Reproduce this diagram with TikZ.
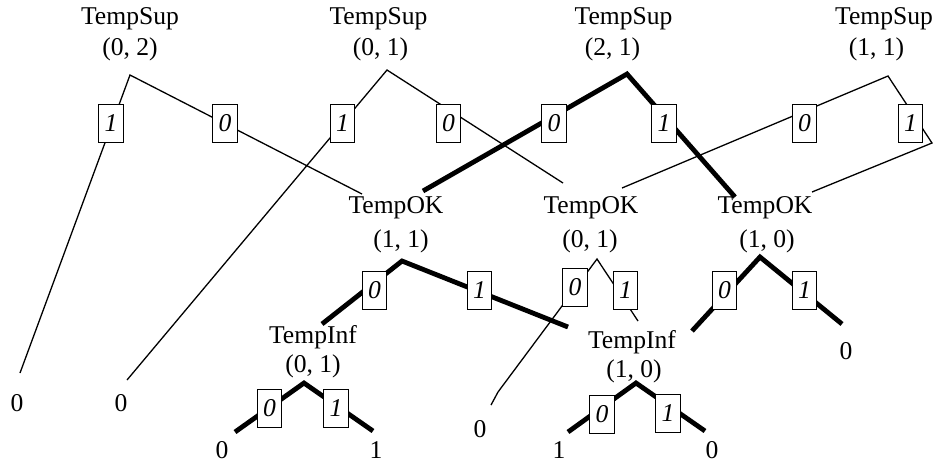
\documentclass[tikz,border=0pt]{standalone}
\usepackage{fontspec}
\setmainfont{Liberation Serif}
\begin{document}
\begin{tikzpicture}[x=0.5pt,y=-0.5pt,
  lbl/.style={anchor=base, inner sep=0pt, font=\fontsize{12.8}{15}\selectfont},
  bit/.style={draw, fill=white, line width=0.5pt, minimum width=12.3pt,
              minimum height=19pt, inner sep=0pt,
              font=\fontsize{12.8}{15}\selectfont\itshape},
  thinedge/.style={line width=0.65pt},
  thickedge/.style={line width=2.4pt},
]
\useasboundingbox (0,0) rectangle (937,463);

% ---- variable labels ----
\node[lbl] (s1)  at (130,24)   {TempSup};
\node[lbl] (s1v) at (130,55)   {(0, 2)};
\node[lbl] (s2)  at (378.5,24) {TempSup};
\node[lbl] (s2v) at (380.5,55) {(0, 1)};
\node[lbl] (s3)  at (623.5,24) {TempSup};
\node[lbl] (s3v) at (612.5,55) {(2, 1)};
\node[lbl] (s4)  at (884,24)   {TempSup};
\node[lbl] (s4v) at (876.5,55) {(1, 1)};

\node[lbl] (k1)  at (396,213)  {TempOK};
\node[lbl] (k1v) at (401,247)  {(1, 1)};
\node[lbl] (k2)  at (591,213)  {TempOK};
\node[lbl] (k2v) at (590,247)  {(0, 1)};
\node[lbl] (k3)  at (765,213)  {TempOK};
\node[lbl] (k3v) at (767,247)  {(1, 0)};

\node[lbl] (i1)  at (313,343)  {TempInf};
\node[lbl] (i1v) at (313,372)  {(0, 1)};
\node[lbl] (i2)  at (632,348)  {TempInf};
\node[lbl] (i2v) at (634,377)  {(1, 0)};

% ---- terminal values ----
\node[lbl] (t1) at (17,411)  {0};
\node[lbl] (t2) at (121,411) {0};
\node[lbl] (t3) at (222,458) {0};
\node[lbl] (t4) at (376,458) {1};
\node[lbl] (t5) at (480,437) {0};
\node[lbl] (t6) at (559,458) {1};
\node[lbl] (t7) at (712,458) {0};
\node[lbl] (t8) at (846,359) {0};

% ---- branching points and edge ends ----
\coordinate (v1) at (130,75);  \coordinate (e1a) at (20,373);  \coordinate (e1b) at (362,194);
\coordinate (v2) at (387,70);  \coordinate (e2a) at (127,380); \coordinate (e2b) at (563,183);
\coordinate (v3) at (627,74);  \coordinate (e3a) at (423,191); \coordinate (e3b) at (735,197);
\coordinate (v4) at (888,76);  \coordinate (e4a) at (622,188); \coordinate (c4) at (932,143);
\coordinate (e4b) at (812,192);
\coordinate (v5) at (402,261); \coordinate (e5a) at (322,324); \coordinate (e5b) at (568,327);
\coordinate (v6) at (597,259); \coordinate (c6) at (498,392);  \coordinate (e6a) at (491,405);
\coordinate (e6b) at (638,321);
\coordinate (v7) at (760,257); \coordinate (e7a) at (692,331); \coordinate (e7b) at (842,324);
\coordinate (v8) at (304,383); \coordinate (e8a) at (235,432); \coordinate (e8b) at (373,431);
\coordinate (v9) at (636,383); \coordinate (e9a) at (568,432); \coordinate (e9b) at (705,431);

% ---- edges ----
\draw[thinedge]  (e1a) -- (v1) -- (e1b);
\draw[thinedge]  (e2a) -- (v2) -- (e2b);
\draw[thickedge] (e3a) -- (v3) -- (e3b);
\draw[thinedge]  (e4a) -- (v4) -- (c4) -- (e4b);
\draw[thickedge] (e5a) -- (v5) -- (e5b);
\draw[thinedge]  (e6a) -- (c6) -- (v6) -- (e6b);
\draw[thickedge] (e7a) -- (v7) -- (e7b);
\draw[thickedge] (e8a) -- (v8) -- (e8b);
\draw[thickedge] (e9a) -- (v9) -- (e9b);

% ---- edge value boxes ----
\node[bit] (b1a) at (111,123)   {1};
\node[bit] (b1b) at (225,123)   {0};
\node[bit] (b2a) at (342.5,123) {1};
\node[bit] (b2b) at (448.5,123) {0};
\node[bit] (b3a) at (554,123)   {0};
\node[bit] (b3b) at (664,123)   {1};
\node[bit] (b4a) at (804.5,123) {0};
\node[bit] (b4b) at (910.5,123) {1};

\node[bit] (b5a) at (374.5,290.5) {0};
\node[bit] (b5b) at (479.5,290.5) {1};
\node[bit] (b6a) at (575,287.5)   {0};
\node[bit] (b6b) at (625.5,290)   {1};
\node[bit] (b7a) at (724.5,290.5) {0};
\node[bit] (b7b) at (804.5,290.5) {1};

\node[bit] (b8a) at (269.5,408.5) {0};
\node[bit] (b8b) at (336,408)     {1};
\node[bit] (b9a) at (602,414.5)   {0};
\node[bit] (b9b) at (668,413)     {1};
\end{tikzpicture}
\end{document}
